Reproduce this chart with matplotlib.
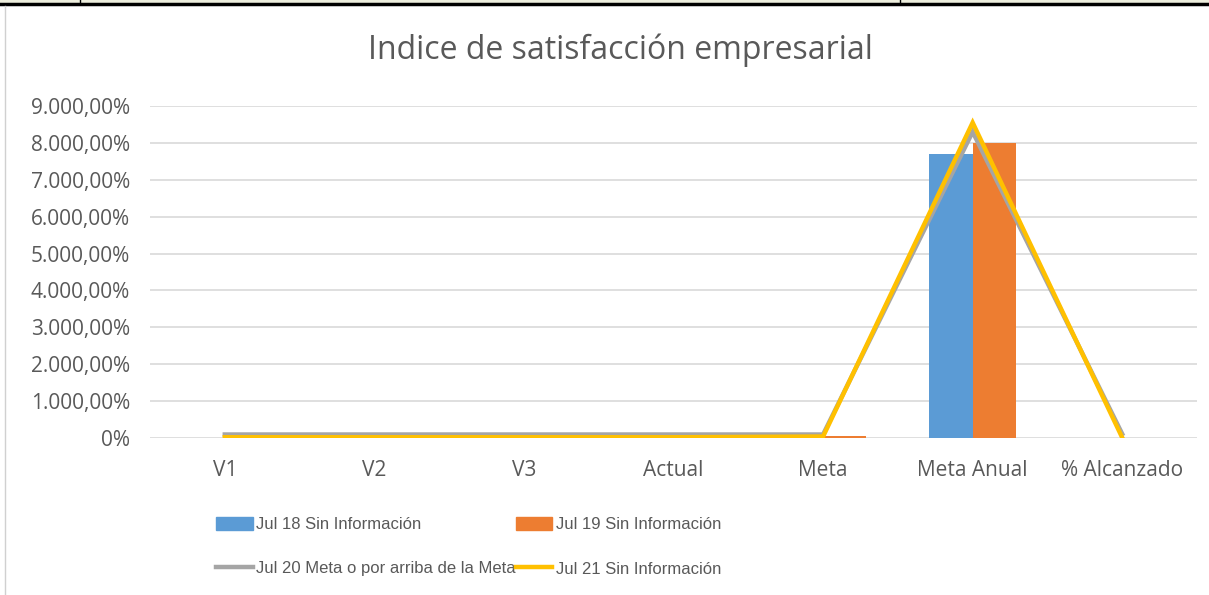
import numpy as np
import matplotlib
matplotlib.use("Agg")
import matplotlib.pyplot as plt
from matplotlib.ticker import FuncFormatter
from matplotlib.lines import Line2D

categorias = ["V1", "V2", "V3", "Actual", "Meta", "Meta Anual", "% Alcanzado"]
jul18 = [0, 0, 0, 0, 0, 7700, 0]
jul19 = [0, 0, 0, 0, 60, 8000, 0]
jul20 = [95, 95, 95, 95, 95, 8300, 110]
jul21 = [20, 20, 20, 20, 40, 8550, 10]
series = ["Jul 18 Sin Información", "Jul 19 Sin Información",
          "Jul 20 Meta o por arriba de la Meta", "Jul 21 Sin Información"]
colores = ["#5B9BD5", "#ED7D31", "#A5A5A5", "#FFC000"]

plt.rcParams['font.family'] = ['Open Sans', 'DejaVu Sans']
txt = "#595959"

fig = plt.figure(figsize=(12.09, 5.95), dpi=100)
W, H = 1209, 595
ax = fig.add_axes([150 / W, 1 - 438 / H, 1047 / W, 332 / H])

x = np.arange(len(categorias))
bw = 0.29
ax.bar(x - bw / 2, jul18, bw, color=colores[0], zorder=2)
ax.bar(x + bw / 2, jul19, bw, color=colores[1], zorder=2)
ax.plot(x, jul20, color=colores[2], lw=3.2, zorder=3, solid_joinstyle="miter")
ax.plot(x, jul21, color=colores[3], lw=3.2, zorder=4, solid_joinstyle="miter")

ax.set_xlim(-0.5, len(categorias) - 0.5)
ax.set_ylim(0, 9000)
ax.set_yticks(np.arange(0, 9001, 1000))


def fmt(v, pos):
    if v == 0:
        return "0%"
    return f"{v:,.2f}%".replace(",", "X").replace(".", ",").replace("X", ".")


ax.yaxis.set_major_formatter(FuncFormatter(fmt))
ax.set_xticks(x)
ax.set_xticklabels(categorias)
ax.tick_params(axis="both", length=0, labelsize=15, colors=txt)
ax.tick_params(axis="y", pad=14.5)
ax.tick_params(axis="x", pad=16)
ax.grid(axis="y", color="#D9D9D9", lw=1.2, zorder=0)
for s in ax.spines.values():
    s.set_visible(False)

fig.text(620 / W, 1 - 50 / H, "Indice de satisfacción empresarial", ha="center",
         va="center", fontsize=23, color=txt)

handles = [
    plt.Rectangle((0, 0), 1, 1, color=colores[0]),
    plt.Rectangle((0, 0), 1, 1, color=colores[1]),
    Line2D([], [], color=colores[2], lw=3.2),
    Line2D([], [], color=colores[3], lw=3.2),
]
orden = [0, 2, 1, 3]
leg = fig.legend([handles[i] for i in orden], [series[i] for i in orden], ncol=2,
                 loc="upper left", bbox_to_anchor=(201 / W, 1 - 502 / H), frameon=False,
                 prop={"family": ["Liberation Sans Narrow", "Liberation Sans"], "size": 12},
                 labelcolor=txt, handlelength=2.2, handleheight=0.8,
                 handletextpad=0.2, columnspacing=0.0, labelspacing=1.75)

# bordes de la hoja
fig.add_artist(plt.Rectangle((0, 1 - 3 / H), 1, 3 / H, transform=fig.transFigure,
                             color="#EDEEDD", lw=0))
fig.add_artist(Line2D([0, 1], [1 - 4 / H, 1 - 4 / H], transform=fig.transFigure,
                      color="black", lw=2.5))
for xv in [80, 900]:
    fig.add_artist(Line2D([xv / W, xv / W], [1, 1 - 4 / H], transform=fig.transFigure,
                          color="black", lw=1))
fig.add_artist(Line2D([5 / W, 5 / W], [0, 1 - 6 / H], transform=fig.transFigure,
                      color="#D0D0D0", lw=1))

fig.savefig("out.png", dpi=100)
